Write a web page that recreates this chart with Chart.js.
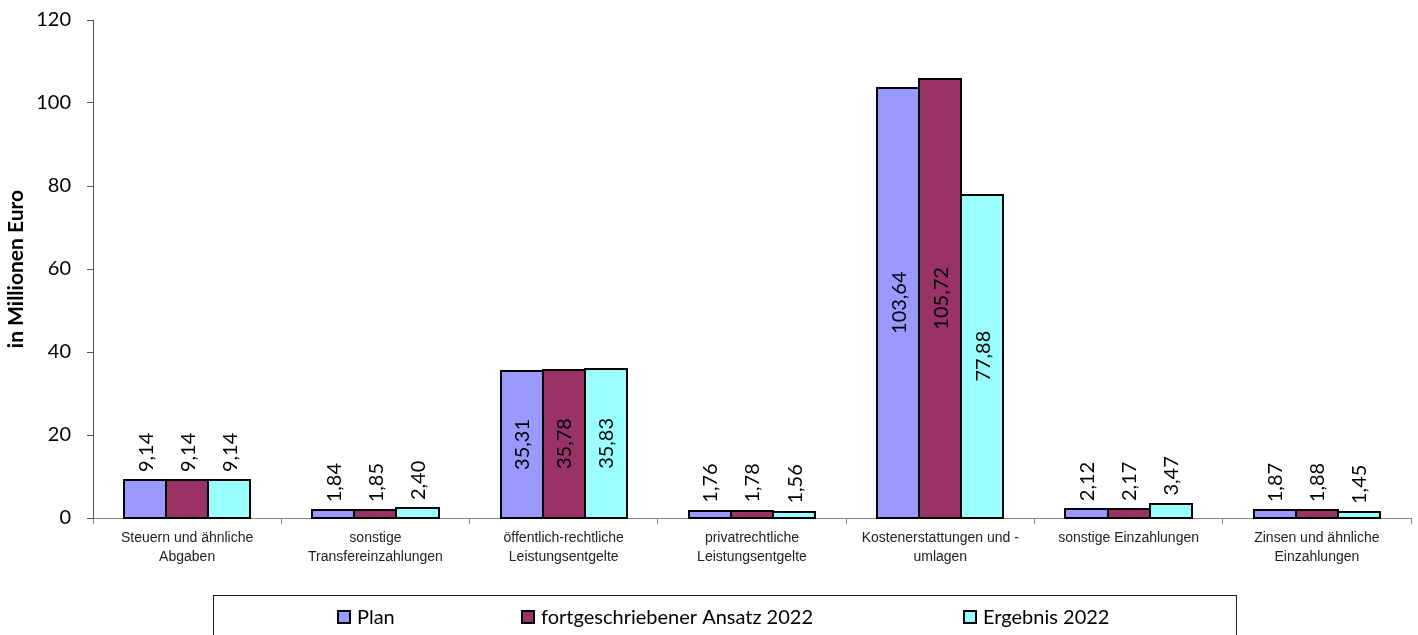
<!DOCTYPE html>
<html lang="de">
<head>
<meta charset="UTF-8">
<title>Einzahlungen 2022</title>
<script src="https://cdn.jsdelivr.net/npm/chart.js@4/dist/chart.umd.min.js"></script>
<style>
    html, body { margin: 0; padding: 0; background: #fff; }
    #grafico-einzahlungen { display: block; }
</style>
</head>
<body>
<canvas id="grafico-einzahlungen" width="1418" height="635"></canvas>
<script>
const kategorien = [
    ['Steuern und ähnliche', 'Abgaben'],
    ['sonstige', 'Transfereinzahlungen'],
    ['öffentlich-rechtliche', 'Leistungsentgelte'],
    ['privatrechtliche', 'Leistungsentgelte'],
    ['Kostenerstattungen und -', 'umlagen'],
    'sonstige Einzahlungen',
    ['Zinsen und ähnliche', 'Einzahlungen']
];

const plan = [9.14, 1.84, 35.31, 1.76, 103.64, 2.12, 1.87];
const ansatz2022 = [9.14, 1.85, 35.78, 1.78, 105.72, 2.17, 1.88];
const ergebnis2022 = [9.14, 2.40, 35.83, 1.56, 77.88, 3.47, 1.45];

const yTicks = [0, 20, 40, 60, 80, 100, 120];

const schrift = 'Lato, Carlito, Calibri, sans-serif';

function formatieren(v) {
    return v.toFixed(2).replace('.', ',');
}

// Rahmen mittig auf die Säulenkanten legen, damit benachbarte Säulen eine gemeinsame Linie haben
const rahmenPlugin = {
    id: 'rahmen',
    afterDatasetsDraw(chart) {
        const ctx = chart.ctx;
        ctx.save();
        ctx.strokeStyle = '#000';
        ctx.lineWidth = 2;
        chart.data.datasets.forEach((ds, i) => {
            chart.getDatasetMeta(i).data.forEach(bar => {
                const links = Math.round(bar.x - bar.width / 2);
                const rechts = Math.round(bar.x + bar.width / 2);
                const oben = Math.round(bar.y);
                const unten = Math.round(bar.base);
                ctx.strokeRect(links, oben, rechts - links, unten - oben);
            });
        });
        ctx.restore();
    }
};

// Werte senkrecht an die Säulen schreiben: in der Säule, wenn Platz ist, sonst darüber
const wertePlugin = {
    id: 'werte',
    afterDatasetsDraw(chart) {
        const ctx = chart.ctx;
        ctx.save();
        ctx.font = `20px ${schrift}`;
        ctx.fillStyle = '#000';
        ctx.textBaseline = 'middle';
        chart.data.datasets.forEach((ds, i) => {
            const meta = chart.getDatasetMeta(i);
            meta.data.forEach((bar, j) => {
                const text = formatieren(ds.data[j]);
                const w = ctx.measureText(text).width;
                const hoehe = bar.base - bar.y;
                ctx.save();
                if (hoehe > w + 20) {
                    ctx.translate(bar.x, (bar.y + bar.base) / 2);
                    ctx.rotate(-Math.PI / 2);
                    ctx.textAlign = 'center';
                } else {
                    ctx.translate(bar.x, bar.y - 8);
                    ctx.rotate(-Math.PI / 2);
                    ctx.textAlign = 'left';
                }
                ctx.fillText(text, 0, 1);
                ctx.restore();
            });
        });
        ctx.restore();
    }
};

// Legende im Rahmen unter dem Diagramm
const legendePlugin = {
    id: 'legendeRahmen',
    afterDraw(chart, args, opts) {
        const ctx = chart.ctx;
        ctx.save();
        ctx.strokeStyle = '#222';
        ctx.lineWidth = 1;
        ctx.strokeRect(opts.left + 0.5, opts.top + 0.5, opts.right - opts.left, 60);
        ctx.font = `20px ${schrift}`;
        ctx.textBaseline = 'middle';
        ctx.textAlign = 'left';
        chart.data.datasets.forEach((ds, i) => {
            const x = opts.positionen[i];
            const y = opts.mitte;
            ctx.fillStyle = ds.backgroundColor;
            ctx.fillRect(x, y - 6, 12, 12);
            ctx.lineWidth = 2;
            ctx.strokeStyle = '#000';
            ctx.strokeRect(x, y - 6, 12, 12);
            ctx.fillStyle = '#000';
            ctx.fillText(ds.label, x + 19, y + 1);
        });
        ctx.restore();
    }
};

function datensatz(label, data, farbe) {
    return {
        label,
        data,
        backgroundColor: farbe,
        borderWidth: 0,
        inflateAmount: 0,
        barPercentage: 1,
        categoryPercentage: 0.67
    };
}

const ctx = document.getElementById('grafico-einzahlungen').getContext('2d');

new Chart(ctx, {
    type: 'bar',
    data: {
        labels: kategorien,
        datasets: [
            datensatz('Plan', plan, '#9999FF'),
            datensatz('fortgeschriebener Ansatz 2022', ansatz2022, '#993366'),
            datensatz('Ergebnis 2022', ergebnis2022, '#99FFFF')
        ]
    },
    options: {
        responsive: false,
        animation: false,
        layout: { padding: { top: 20, right: 7, bottom: 0, left: 0 } },
        plugins: {
            legend: { display: false },
            tooltip: { enabled: false },
            legendeRahmen: { left: 213, right: 1236, top: 595, mitte: 617, positionen: [338, 522, 964] }
        },
        scales: {
            x: {
                grid: { drawOnChartArea: false, tickLength: 6, color: '#888', offset: true },
                border: { color: '#888', width: 1 },
                ticks: {
                    color: '#222',
                    font: { family: '"Liberation Sans", Arial, sans-serif', size: 14, lineHeight: 1.35 },
                    maxRotation: 0,
                    autoSkip: false,
                    padding: 5
                },
                afterFit(scale) { scale.height = 117; }
            },
            y: {
                min: 0,
                max: 120,
                afterBuildTicks(scale) { scale.ticks = yTicks.map(v => ({ value: v })); },
                grid: { drawOnChartArea: false, tickLength: 6, color: '#555' },
                border: { color: '#555', width: 1 },
                ticks: {
                    color: '#000',
                    font: { family: schrift, size: 20 },
                    padding: 16
                },
                title: {
                    display: true,
                    text: 'in Millionen Euro',
                    color: '#000',
                    font: { family: schrift, size: 21, weight: 'bold' },
                    padding: { top: 4, bottom: 0 }
                },
                afterFit(scale) {
                    scale.width = 93;
                    scale.paddingTop = 0;
                    scale.paddingBottom = 0;
                }
            }
        }
    },
    plugins: [rahmenPlugin, wertePlugin, legendePlugin]
});
</script>
</body>
</html>
